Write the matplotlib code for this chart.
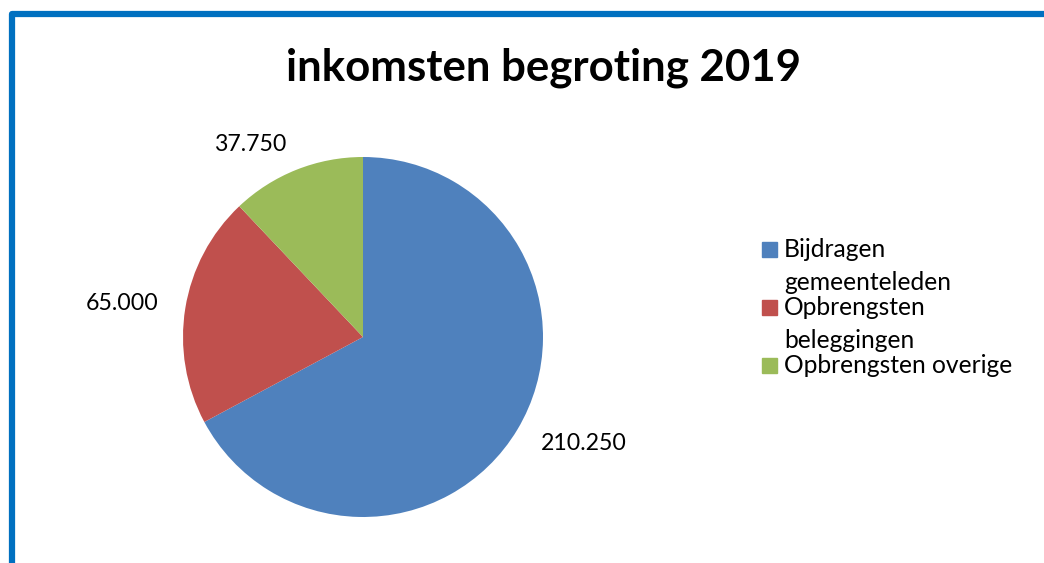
import matplotlib
matplotlib.use('Agg')
import matplotlib.pyplot as plt
from matplotlib.patches import Rectangle

# data
labels = ['Bijdragen\ngemeenteleden', 'Opbrengsten\nbeleggingen', 'Opbrengsten overige']
values = [210250, 65000, 37750]
colors = ['#4F81BD', '#C0504D', '#9BBB59']

plt.rcParams['font.family'] = ['Lato', 'DejaVu Sans']

W, H = 1044, 563
fig = plt.figure(figsize=(W / 100, H / 100), dpi=100)

# blue frame on top and left
fig.patches.append(Rectangle((12 / W, -0.1), 1.2, 1.1 - 14.5 / H, transform=fig.transFigure,
                             fill=False, edgecolor='#0070C0', linewidth=4.5, joinstyle='round'))

fig.text(543 / W, 1 - 68 / H, 'inkomsten begroting 2019', ha='center', va='center',
         fontsize=31.5, fontweight='bold')

# pie, center (363, 337), radius 180 px
ax = fig.add_axes([(363 - 180) / W, (H - 337 - 180) / H, 360 / W, 360 / H])
val_txt = [f'{v:,}'.replace(',', '.') for v in values]
wedges, texts = ax.pie(values, colors=colors, startangle=90, counterclock=False,
                       labels=val_txt, labeldistance=1.15,
                       textprops={'fontsize': 16.7})
ax.set_xlim(-1, 1)
ax.set_ylim(-1, 1)
ax.set_aspect('equal')

# legend, first line of each entry next to the square
y0 = 257   # baseline of first entry (px from top)
for i, (lab, col) in enumerate(zip(labels, colors)):
    yb = y0 + i * 58
    fig.patches.append(Rectangle((762 / W, 1 - yb / H), 15 / W, 15 / H,
                                 transform=fig.transFigure, color=col))
    for j, line in enumerate(lab.split('\n')):
        fig.text(784 / W, 1 - (yb + j * 33) / H, line, ha='left', va='baseline',
                 fontsize=17.7)

fig.savefig('out.png', dpi=100)
